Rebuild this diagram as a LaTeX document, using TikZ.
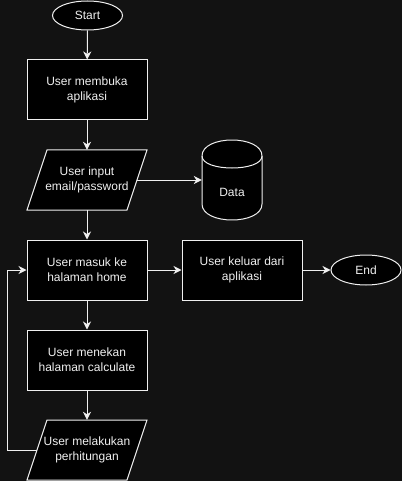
\documentclass[tikz,border=0pt]{standalone}
\usepackage{fontspec}
\setmainfont{Liberation Sans}
\usetikzlibrary{arrows.meta,shapes.geometric}
\definecolor{bg}{RGB}{18,18,18}
\definecolor{fg}{RGB}{240,240,240}
\begin{document}
\begin{tikzpicture}[x=1pt,y=-1pt,
  every node/.style={font=\fontsize{12}{15}\selectfont, text=fg, align=center, inner sep=0pt},
  boxst/.style={draw=fg, fill=black, line width=1pt, minimum width=120pt, minimum height=60pt},
  ellst/.style={ellipse, draw=fg, fill=black, line width=1pt, minimum width=70pt, minimum height=30pt},
  shapest/.style={draw=fg, fill=black, line width=1pt},
  anchorbox/.style={minimum width=100pt, minimum height=60pt},
  conn/.style={draw=fg, line width=1pt, -{Stealth[length=8pt,width=8pt,inset=2.5pt]}}
]
\fill[bg] (0,0) rectangle (402,481);
\useasboundingbox (0,0) rectangle (402,481);

% Start
\node[ellst, minimum height=29pt] (start) at (87.5,15.5) {Start};
% box 1
\node[boxst] (b1) at (87,90) {User membuka\\aplikasi};
% parallelogram 1
\draw[shapest] (47,150) -- (147,150) -- (127,210) -- (27,210) -- cycle;
\node[anchorbox] (p1) at (87,180) {User input\\email/password};
% Data cylinder
\draw[shapest] (202,156) .. controls (202,134.67) and (262,134.67) .. (262,156)
  -- (262,204) .. controls (262,225.33) and (202,225.33) .. (202,204) -- cycle;
\draw[draw=fg, line width=1pt] (202,156) .. controls (202,172) and (262,172) .. (262,156);
\node[minimum width=60pt, minimum height=80pt] (data) at (232,180) {};
\node at (232,192) {Data};
% home
\node[boxst] (home) at (87,270) {User masuk ke\\halaman home};
% keluar
\node[boxst] (out) at (242,270) {User keluar dari\\aplikasi};
% End
\node[ellst] (end) at (366,270) {End};
% calc
\node[boxst] (calc) at (87,360) {User menekan\\halaman calculate};
% parallelogram 2
\draw[shapest] (47,420) -- (147,420) -- (127,480) -- (27,480) -- cycle;
\node[anchorbox] (p2) at (87,450) {User melakukan\\perhitungan};

\coordinate (lb) at (7,450);
\coordinate (lt) at (7,270);

\draw[conn] (start) -- (b1);
\draw[conn] (b1) -- (p1);
\draw[conn] (p1.east) -- (data.west);
\draw[conn] (p1) -- (home);
\draw[conn] (home) -- (calc);
\draw[conn] (calc) -- (p2);
\draw[conn] (home) -- (out);
\draw[conn] (out) -- (end);
\draw[conn] (p2.west) -- (lb) -- (lt) -- (home.west);
\end{tikzpicture}
\end{document}
